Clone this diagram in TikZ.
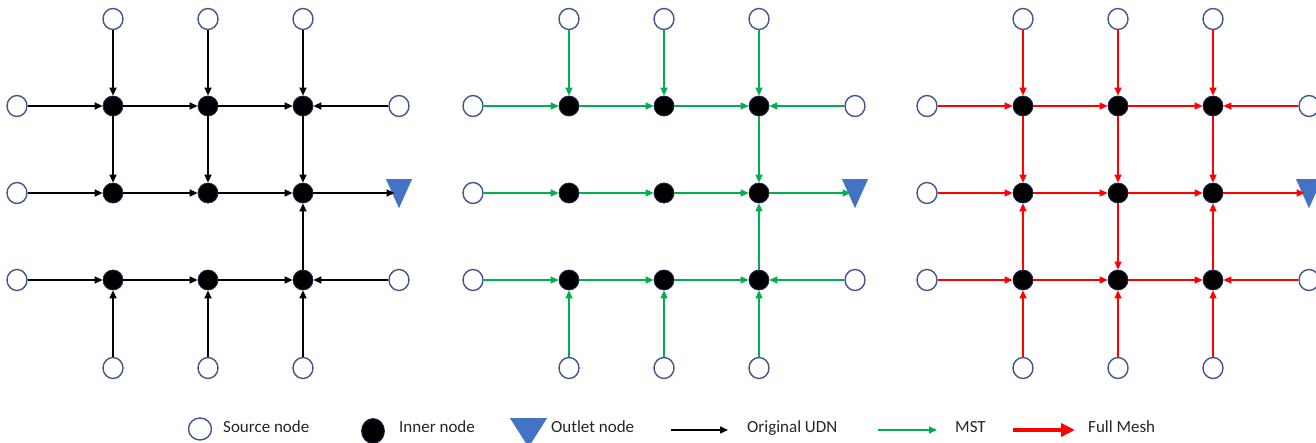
\documentclass[tikz,border=0pt]{standalone}
\usepackage{fontspec}
\setmainfont{Carlito}
\usetikzlibrary{arrows.meta,shapes.geometric}
\definecolor{srcblue}{RGB}{68,84,140}
\definecolor{innerrim}{RGB}{30,40,85}
\definecolor{outletblue}{RGB}{68,114,196}
\definecolor{mstgreen}{RGB}{0,176,80}
\definecolor{meshred}{RGB}{255,0,0}
\definecolor{txtgray}{RGB}{38,38,38}
\tikzset{
  srcnode/.style={ellipse, draw=srcblue, line width=1.4pt, fill=white, minimum width=20pt, minimum height=21pt, inner sep=0pt},
  innernode/.style={circle, draw=innerrim, line width=0.8pt, fill=black, minimum size=20pt, inner sep=0pt},
  outletnode/.style={isosceles triangle, isosceles triangle stretches, shape border rotate=-90, fill=outletblue, draw=none, minimum width=26pt, minimum height=29pt, inner sep=0pt},
  udn/.style={draw=black, line width=1.7pt, -{Triangle[length=8pt,width=7pt]}},
  mst/.style={draw=mstgreen, line width=1.6pt, -{Triangle[length=8pt,width=7pt]}},
  mesh/.style={draw=meshred, line width=1.6pt, -{Triangle[length=8pt,width=7pt]}},
  legtext/.style={anchor=base west, inner sep=0pt, text=txtgray, font=\fontsize{17pt}{20pt}\selectfont},
}
\newcommand\gridnodes[2]{%
  \foreach \c/\xx in {1/113,2/208,3/303} {
    \node[srcnode] (#1t\c) at (#2+\xx,19) {};
    \node[srcnode] (#1b\c) at (#2+\xx,368) {};
    \foreach \r/\yy in {1/106,2/193,3/280} {
      \node[innernode] (#1\r\c) at (#2+\xx,\yy) {};
    }
  }
  \foreach \r/\yy in {1/106,2/193,3/280} {
    \node[srcnode] (#1l\r) at (#2+17,\yy) {};
  }
  \node[srcnode] (#1r1) at (#2+399,106) {};
  \node[srcnode] (#1r3) at (#2+399,280) {};
  \node[outletnode, anchor=north] (#1o) at (#2+399,179) {};
}
\begin{document}
\begin{tikzpicture}[x=1pt,y=-1pt]
\useasboundingbox[fill=white] (0,0) rectangle (1316,443);
% panels
\gridnodes{A}{0}
\gridnodes{B}{456}
\gridnodes{C}{910}
\foreach \p/\s in {A/udn,B/mst,C/mesh} {
  \foreach \c in {1,2,3} {
    \draw[\s] (\p t\c) -- (\p 1\c);
    \draw[\s] (\p b\c) -- (\p 3\c);
  }
  \foreach \r in {1,2,3} {
    \draw[\s] (\p l\r) -- (\p \r 1);
    \draw[\s] (\p \r 1) -- (\p \r 2);
    \draw[\s] (\p \r 2) -- (\p \r 3);
  }
  \draw[\s] (\p r1) -- (\p 13);
  \draw[\s] (\p r3) -- (\p 33);
  \draw[\s, shorten >=-5pt] (\p 23.east) -- (\p o.west |- \p 23.east);
}
% Original UDN verticals
\draw[udn] (A11) -- (A21);
\draw[udn] (A12) -- (A22);
\draw[udn] (A13) -- (A23);
\draw[udn] (A33) -- (A23);
% MST verticals
\draw[mst] (B13) -- (B23);
\draw[mst] (B33) -- (B23);
% Full mesh verticals
\draw[mesh] (C11) -- (C21);
\draw[mesh] (C12) -- (C22);
\draw[mesh] (C13) -- (C23);
\draw[mesh] (C31) -- (C21);
\draw[mesh] (C22) -- (C32);
\draw[mesh] (C33) -- (C23);
% legend
\node[srcnode, minimum width=23pt, minimum height=22pt] (lsrc) at (200,429) {};
\node[legtext] (lsrct) at (223,432) {Source node};
\node[innernode, ellipse, minimum width=23pt, minimum height=25pt] (linn) at (373,431) {};
\node[legtext] (linnt) at (399,432) {Inner node};
\node[outletnode, minimum width=37pt, minimum height=29pt, anchor=north] (lout) at (528.5,418) {};
\node[legtext] (loutt) at (551,432) {Outlet node};
\coordinate (ka) at (671,430);
\coordinate (kb) at (728,430);
\draw[udn, line width=1.5pt] (ka) -- (kb);
\node[legtext] (kt) at (747,432) {Original UDN};
\coordinate (ga) at (878,430);
\coordinate (gb) at (937,430);
\draw[mst] (ga) -- (gb);
\node[legtext] (gt) at (955,432) {MST};
\coordinate (ra) at (1013,430);
\coordinate (rb) at (1075,430);
\draw[draw=meshred, line width=4pt, -{Triangle[length=14pt,width=13pt]}] (ra) -- (rb);
\node[legtext] (rt) at (1088,432) {Full Mesh};
\end{tikzpicture}
\end{document}
